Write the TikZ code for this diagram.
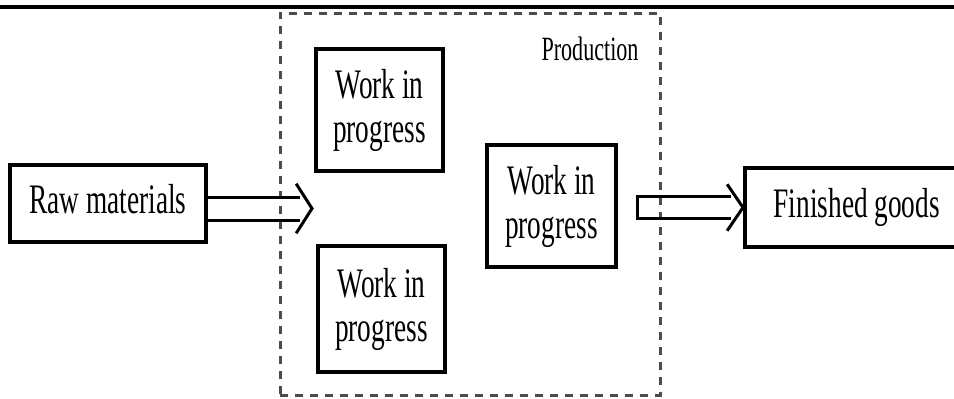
\documentclass[tikz,border=0pt]{standalone}
\usepackage{fontspec}
\newfontfamily\condserif[FakeStretch=0.65]{Liberation Serif}
\usetikzlibrary{calc}
\begin{document}
\begin{tikzpicture}[x=1pt,y=-1pt,
  box/.style={draw=black,line width=3.5pt,fill=white,inner sep=0pt},
  bigtext/.style={font=\condserif\fontsize{42}{44}\selectfont},
  oneline/.style={text height=28pt,text depth=9pt},
  hollow/.style={draw=black,line width=3pt,line join=miter,line cap=rect},
  frame/.style={draw=black!70,line width=3pt,dash pattern=on 8pt off 7pt}]
\clip (0,0) rectangle (954,399);
\fill[white] (0,0) rectangle (954,399);
% top rule
\draw[line width=4pt] (0,7) -- (954,7);
% production frame
\node[frame,minimum width=380pt,minimum height=382pt,inner sep=0pt] (prod) at (470,204) {};
\node[anchor=base,font=\condserif\fontsize{34}{36}\selectfont,inner sep=0pt] (prodlabel) at (590,60) {Production};
% boxes
\node[box,bigtext,oneline,minimum width=196pt,minimum height=77pt] (raw) at (108,203.5) {Raw materials};
\node[box,bigtext,align=center,minimum width=127pt,minimum height=122pt] (wipa) at (379.5,110) {Work in\\progress};
\node[box,bigtext,align=center,minimum width=129pt,minimum height=122pt] (wipb) at (551.5,206) {Work in\\progress};
\node[box,bigtext,align=center,minimum width=127pt,minimum height=126pt] (wipc) at (381.5,309) {Work in\\progress};
\node[box,bigtext,oneline,anchor=west,minimum height=79pt,inner xsep=29pt] (fin) at (743,207.5) {Finished goods};
% arrow 1
\coordinate (hA) at (312,208.5);
\draw[hollow] ($(raw.east|-hA)+(0,-11.5)$) -- ($(hA)+(-14,-11.5)$);
\draw[hollow] ($(raw.east|-hA)+(0,11.5)$) -- ($(hA)+(-14,11.5)$);
\draw[hollow] ($(hA)+(-15,-23.5)$) -- (hA) -- ($(hA)+(-15,23.5)$);
% arrow 2
\coordinate (tB) at (637,209);
\coordinate (hB) at (fin.west);
\draw[hollow] ($(hB)+(-14,-11)$) -- ($(tB|-hB)+(0,-11)$) -- ($(tB|-hB)+(0,11)$) -- ($(hB)+(-14,11)$);
\draw[hollow] ($(hB)+(-15,-22)$) -- (hB) -- ($(hB)+(-15,22)$);
\end{tikzpicture}
\end{document}
